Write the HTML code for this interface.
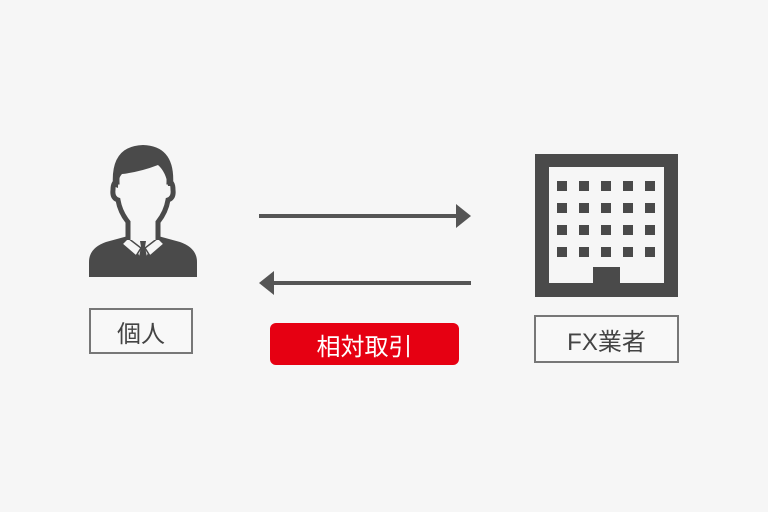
<!DOCTYPE html>
<html><head><meta charset="utf-8"><style>
body{margin:0;width:768px;height:512px;background:#f6f6f6;overflow:hidden;position:relative;font-family:"Liberation Sans","Noto Sans CJK JP",sans-serif}
.box{position:absolute;border:2px solid #777;box-sizing:border-box;background:#f8f8f8;color:#444;display:flex;align-items:center;justify-content:center;font-size:24px}
</style></head><body>
<svg width="768" height="512" style="position:absolute;left:0;top:0">
<!-- person -->
<g fill="#4a4a4a">
<path d="M89 277 L89 262 Q89 248 106 242 L128 236 L158 236 L180 242 Q197 248 197 262 L197 277 Z"/>
<path d="M128 236 L143 262 L158 236 Z" fill="#f6f6f6"/>
<path d="M140 241 L146 241 L145 247 L148 262 L143 268 L138 262 L141 247 Z"/>
<path d="M128 238 L122 244 L136 256 L141 248 Z M158 238 L164 244 L150 256 L145 248 Z" fill="#f6f6f6" stroke="#4a4a4a" stroke-width="1.5"/>
<path d="M128 240 L128 222 Q120 212 118 200 Q112 198 113 190 Q113 182 117 182 Q116 150 143 150 Q170 150 169 182 Q173 182 173 190 Q174 198 168 200 Q166 212 158 222 L158 240" fill="#f6f6f6" stroke="#4a4a4a" stroke-width="5"/>
<path d="M113 186 Q110 146 143 145 Q176 146 173 186 L168 186 Q166 172 158 165 Q140 172 122 174 Q118 178 118 188 Z"/>
</g>
<!-- arrows -->
<line x1="259" y1="216" x2="460" y2="216" stroke="#555" stroke-width="4"/>
<polygon points="456,204 471,216 456,228" fill="#555"/>
<line x1="270" y1="283" x2="471" y2="283" stroke="#555" stroke-width="4"/>
<polygon points="274,271 259,283 274,295" fill="#555"/>
<!-- building -->
<rect x="535" y="154" width="143" height="143" fill="#4a4a4a"/>
<rect x="549" y="167" width="115" height="116" fill="#f6f6f6"/>
<g fill="#4a4a4a">
<rect x="557" y="181" width="10" height="10"/><rect x="579" y="181" width="10" height="10"/><rect x="601" y="181" width="10" height="10"/><rect x="623" y="181" width="10" height="10"/><rect x="645" y="181" width="10" height="10"/>
<rect x="557" y="203" width="10" height="10"/><rect x="579" y="203" width="10" height="10"/><rect x="601" y="203" width="10" height="10"/><rect x="623" y="203" width="10" height="10"/><rect x="645" y="203" width="10" height="10"/>
<rect x="557" y="225" width="10" height="10"/><rect x="579" y="225" width="10" height="10"/><rect x="601" y="225" width="10" height="10"/><rect x="623" y="225" width="10" height="10"/><rect x="645" y="225" width="10" height="10"/>
<rect x="557" y="247" width="10" height="10"/><rect x="579" y="247" width="10" height="10"/><rect x="601" y="247" width="10" height="10"/><rect x="623" y="247" width="10" height="10"/><rect x="645" y="247" width="10" height="10"/>
<rect x="593" y="267" width="27" height="17"/>
</g>
</svg>
<div class="box" style="left:89px;top:308px;width:104px;height:46px">個人</div>
<div class="box" style="left:534px;top:315px;width:145px;height:48px">FX業者</div>
<div style="position:absolute;left:270px;top:323px;width:189px;height:42px;background:#e60012;border-radius:6px;color:#fff;font-size:24px;display:flex;align-items:center;justify-content:center">相対取引</div>
</body></html>
